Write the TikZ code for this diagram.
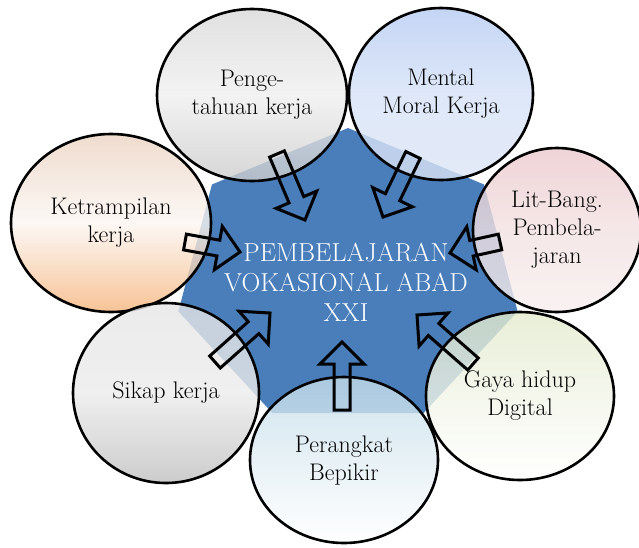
\documentclass[tikz,border=0pt]{standalone}
\usepackage{fontspec}
\usepackage{tikz}
\usetikzlibrary{positioning}
\usetikzlibrary{calc}
\usetikzlibrary{shapes.geometric}

\definecolor{hubblue}{HTML}{4A7EBB}

\begin{document}
\begin{tikzpicture}[x=1pt,y=-1pt,
  bubble/.style={ellipse,draw=black,line width=2.6pt,inner sep=0pt,
    fill opacity=0.8,text opacity=1,align=center,
    font=\fontsize{24}{28}\selectfont},
  hollow/.style={draw=black,line width=3pt,line join=miter}]
\useasboundingbox (0,0) rectangle (639,547);

\coordinate (hub) at (348,278);
\fill[hubblue] ($(hub)+(90:174pt and 150pt)$)
  \foreach \k in {1,...,6} { -- ($(hub)+(90+\k*360/7:174pt and 150pt)$) } -- cycle;
\node[align=center,text=white,font=\fontsize{26}{30}\selectfont] (title) at (346,282)
  {PEMBELAJARAN\\VOKASIONAL ABAD\\XXI};

\node[bubble,minimum width=190pt,minimum height=172pt,
  top color=gray!30,bottom color=gray!40,middle color=gray!12] (know) at (252,95)
  {Penge-\\tahuan kerja};
\node[bubble,minimum width=184pt,minimum height=172pt,
  top color={rgb,255:red,182;green,203;blue,242},bottom color={rgb,255:red,220;green,229;blue,245},
  middle color={rgb,255:red,214;green,226;blue,247}] (moral) at (441,94)
  {Mental\\Moral Kerja};
\node[bubble,minimum width=200pt,minimum height=178pt,
  top color={rgb,255:red,235;green,211;blue,194},bottom color={rgb,255:red,245;green,180;blue,124},
  middle color={rgb,255:red,251;green,246;blue,242}] (skill) at (111,223)
  {Ketrampilan\\kerja};
\node[bubble,minimum width=168pt,minimum height=164pt,
  top color={rgb,255:red,235;green,201;blue,204},bottom color={rgb,255:red,247;green,239;blue,239},
  middle color={rgb,255:red,243;green,225;blue,226}] (research) at (557,230)
  {Lit-Bang.\\Pembela-\\jaran};
\node[bubble,minimum width=186pt,minimum height=180pt,
  top color=gray!20,bottom color=gray!50,middle color=gray!15] (attitude) at (166,393)
  {Sikap kerja};
\node[bubble,minimum width=188pt,minimum height=166pt,
  top color={rgb,255:red,196;green,221;blue,234},bottom color=white,
  middle color={rgb,255:red,226;green,238;blue,244}] (thinking) at (344,460)
  {Perangkat\\Bepikir};
\node[bubble,minimum width=188pt,minimum height=168pt,
  top color={rgb,255:red,226;green,234;blue,204},bottom color=white,
  middle color={rgb,255:red,242;green,245;blue,232}] (digital) at (520,396)
  {Gaya hidup\\Digital};

% tails and tips of the block arrows
\coordinate (t-know) at (277,154);     \coordinate (p-know) at (305,220);
\coordinate (t-moral) at (413,155);    \coordinate (p-moral) at (383,217);
\coordinate (t-skill) at (185,242);    \coordinate (p-skill) at (240,252);
\coordinate (t-research) at (500,242); \coordinate (p-research) at (450,253);
\coordinate (t-attitude) at (215,362); \coordinate (p-attitude) at (270,313);
\coordinate (t-thinking) at (342,410); \coordinate (p-thinking) at (342,342);
\coordinate (t-digital) at (473,364);  \coordinate (p-digital) at (417,315);

% hollow block arrows into the hub
\foreach \src in {know,moral,skill,research,attitude,thinking,digital}{
  \coordinate (h-\src) at ($(p-\src)!22pt!(t-\src)$);
  \draw[hollow] ($(t-\src)!8pt!90:(p-\src)$) -- ($(h-\src)!8pt!90:(p-\src)$)
    -- ($(h-\src)!22pt!90:(p-\src)$) -- (p-\src) -- ($(h-\src)!22pt!-90:(p-\src)$)
    -- ($(h-\src)!8pt!-90:(p-\src)$) -- ($(t-\src)!8pt!-90:(p-\src)$) -- cycle;
}
\end{tikzpicture}
\end{document}
